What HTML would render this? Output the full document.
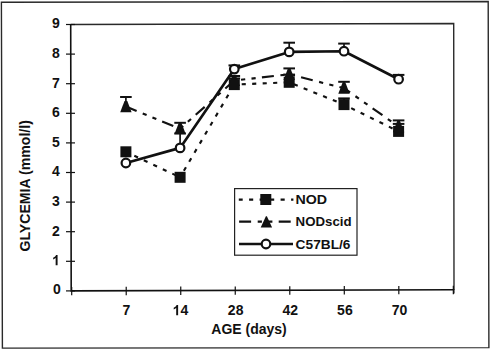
<!DOCTYPE html>
<html><head><meta charset="utf-8"><style>
html,body{margin:0;padding:0;background:#fff;}
body{width:491px;height:350px;overflow:hidden;}
svg{display:block;}
text{font-family:"Liberation Sans",sans-serif;font-weight:bold;fill:#111;}
.tl{font-size:14px;}
.ax{font-size:14px;}
.lg{font-size:13.5px;}
</style></head><body>
<svg width="491" height="350" viewBox="0 0 491 350">
<rect width="491" height="350" fill="#fff"/>
<polygon points="1.4,2.2 488.2,1.5 488.9,347.6 2.4,348.1" fill="none" stroke="#2a2a2a" stroke-width="1.4"/>
<polyline points="70.7,24.5 453.7,23.5 454.0,289.8" fill="none" stroke="#2a2a2a" stroke-width="1.4"/>
<polyline points="70.7,24.5 71.2,290.9 454.0,289.8" fill="none" stroke="#111" stroke-width="1.6"/>
<line x1="453.9" y1="289" x2="453.9" y2="293.6" stroke="#111" stroke-width="1.3"/>
<line x1="66" y1="290.90" x2="75" y2="290.90" stroke="#111" stroke-width="1.2"/>
<text x="60.70" y="294.20" text-anchor="end" class="tl">0</text>
<line x1="66" y1="261.30" x2="75" y2="261.30" stroke="#111" stroke-width="1.2"/>
<path transform="translate(52.12,265.20)" fill="#111" d="M5.455,0 L3.534,0 L3.534,-7.24 Q2.481,-6.255 1.053,-5.783 L1.053,-7.527 Q1.805,-7.772 2.687,-8.456 Q3.568,-9.147 3.897,-10.145 L5.455,-10.145 Z"/>
<line x1="66" y1="231.70" x2="75" y2="231.70" stroke="#111" stroke-width="1.2"/>
<text x="59.90" y="235.60" text-anchor="end" class="tl">2</text>
<line x1="66" y1="202.10" x2="75" y2="202.10" stroke="#111" stroke-width="1.2"/>
<text x="59.90" y="206.00" text-anchor="end" class="tl">3</text>
<line x1="66" y1="172.50" x2="75" y2="172.50" stroke="#111" stroke-width="1.2"/>
<text x="59.90" y="176.40" text-anchor="end" class="tl">4</text>
<line x1="66" y1="142.90" x2="75" y2="142.90" stroke="#111" stroke-width="1.2"/>
<text x="59.90" y="146.80" text-anchor="end" class="tl">5</text>
<line x1="66" y1="113.30" x2="75" y2="113.30" stroke="#111" stroke-width="1.2"/>
<text x="59.90" y="117.20" text-anchor="end" class="tl">6</text>
<line x1="66" y1="83.70" x2="75" y2="83.70" stroke="#111" stroke-width="1.2"/>
<text x="59.90" y="87.60" text-anchor="end" class="tl">7</text>
<line x1="66" y1="54.10" x2="75" y2="54.10" stroke="#111" stroke-width="1.2"/>
<text x="59.90" y="58.00" text-anchor="end" class="tl">8</text>
<line x1="66" y1="24.50" x2="75" y2="24.50" stroke="#111" stroke-width="1.2"/>
<text x="59.90" y="28.40" text-anchor="end" class="tl">9</text>
<line x1="71.70" y1="286.90" x2="71.70" y2="295.30" stroke="#111" stroke-width="1.2"/>
<line x1="126.22" y1="286.74" x2="126.22" y2="295.14" stroke="#111" stroke-width="1.2"/>
<line x1="180.74" y1="286.59" x2="180.74" y2="294.99" stroke="#111" stroke-width="1.2"/>
<line x1="235.26" y1="286.43" x2="235.26" y2="294.83" stroke="#111" stroke-width="1.2"/>
<line x1="289.78" y1="286.27" x2="289.78" y2="294.67" stroke="#111" stroke-width="1.2"/>
<line x1="344.30" y1="286.12" x2="344.30" y2="294.52" stroke="#111" stroke-width="1.2"/>
<line x1="398.82" y1="285.96" x2="398.82" y2="294.36" stroke="#111" stroke-width="1.2"/>
<line x1="453.34" y1="285.80" x2="453.34" y2="294.20" stroke="#111" stroke-width="1.2"/>
<text x="126.42" y="315.30" text-anchor="middle" class="tl">7</text>
<path transform="translate(172.66,315.18)" fill="#111" d="M5.455,0 L3.534,0 L3.534,-7.24 Q2.481,-6.255 1.053,-5.783 L1.053,-7.527 Q1.805,-7.772 2.687,-8.456 Q3.568,-9.147 3.897,-10.145 L5.455,-10.145 Z"/>
<text x="180.44" y="315.18" class="tl">4</text>
<text x="235.66" y="315.06" text-anchor="middle" class="tl">28</text>
<text x="290.28" y="314.94" text-anchor="middle" class="tl">42</text>
<text x="344.90" y="314.82" text-anchor="middle" class="tl">56</text>
<text x="399.52" y="314.70" text-anchor="middle" class="tl">70</text>
<text x="249" y="334" text-anchor="middle" class="ax">AGE (days)</text>
<text transform="translate(30.3,185.8) rotate(-90)" text-anchor="middle" class="ax" style="font-size:14.1px">GLYCEMIA (mmol/l)</text>
<line x1="125.90" y1="151.80" x2="180.10" y2="177.30" stroke="#111" stroke-width="2.15" stroke-dasharray="4.1 6.4" stroke-dashoffset="1.20"/>
<line x1="180.10" y1="177.30" x2="234.30" y2="84.60" stroke="#111" stroke-width="2.15" stroke-dasharray="4.1 6.4" stroke-dashoffset="3.00"/>
<line x1="234.30" y1="84.60" x2="289.20" y2="82.30" stroke="#111" stroke-width="2.15" stroke-dasharray="4.1 6.4" stroke-dashoffset="3.10"/>
<line x1="289.20" y1="82.30" x2="344.00" y2="104.60" stroke="#111" stroke-width="2.15" stroke-dasharray="4.1 6.4" stroke-dashoffset="5.40"/>
<line x1="344.00" y1="104.60" x2="398.60" y2="131.40" stroke="#111" stroke-width="2.15" stroke-dasharray="4.1 6.4" stroke-dashoffset="2.50"/>
<line x1="125.90" y1="106.60" x2="180.10" y2="128.70" stroke="#111" stroke-width="2.15" stroke-dasharray="12 6.6 4.2 6.3 4.2 6.3" stroke-dashoffset="0.44"/>
<line x1="180.10" y1="128.70" x2="234.30" y2="80.50" stroke="#111" stroke-width="2.15" stroke-dasharray="12 6.6 4.2 6.3 4.2 6.3" stroke-dashoffset="18.70"/>
<line x1="234.30" y1="80.50" x2="289.20" y2="74.30" stroke="#111" stroke-width="2.15" stroke-dasharray="12 6.6 4.2 6.3 4.2 6.3" stroke-dashoffset="11.80"/>
<line x1="289.20" y1="74.30" x2="344.00" y2="88.20" stroke="#111" stroke-width="2.15" stroke-dasharray="12 6.6 4.2 6.3 4.2 6.3" stroke-dashoffset="27.35"/>
<line x1="344.00" y1="88.20" x2="398.60" y2="126.60" stroke="#111" stroke-width="2.15" stroke-dasharray="12 6.6 4.2 6.3 4.2 6.3" stroke-dashoffset="4.60"/>
<polyline points="125.90,163.00 180.10,147.90 234.30,69.10 289.20,51.90 344.00,51.20 398.60,79.20" fill="none" stroke="#111" stroke-width="2.65" stroke-linejoin="round"/>
<line x1="234.30" y1="84.60" x2="234.30" y2="78.40" stroke="#111" stroke-width="1.7"/><line x1="228.50" y1="78.40" x2="240.10" y2="78.40" stroke="#111" stroke-width="2"/>
<line x1="289.20" y1="82.30" x2="289.20" y2="74.60" stroke="#111" stroke-width="1.7"/><line x1="283.40" y1="74.60" x2="295.00" y2="74.60" stroke="#111" stroke-width="2"/>
<line x1="344.00" y1="104.60" x2="344.00" y2="98.40" stroke="#111" stroke-width="1.7"/><line x1="338.20" y1="98.40" x2="349.80" y2="98.40" stroke="#111" stroke-width="2"/>
<line x1="398.60" y1="131.40" x2="398.60" y2="123.90" stroke="#111" stroke-width="1.7"/><line x1="392.80" y1="123.90" x2="404.40" y2="123.90" stroke="#111" stroke-width="2"/>
<line x1="125.90" y1="106.60" x2="125.90" y2="97.00" stroke="#111" stroke-width="1.7"/><line x1="120.10" y1="97.00" x2="131.70" y2="97.00" stroke="#111" stroke-width="2"/>
<line x1="180.10" y1="128.70" x2="180.10" y2="122.80" stroke="#111" stroke-width="1.7"/><line x1="174.30" y1="122.80" x2="185.90" y2="122.80" stroke="#111" stroke-width="2"/>
<line x1="234.30" y1="80.50" x2="234.30" y2="76.00" stroke="#111" stroke-width="1.7"/><line x1="228.50" y1="76.00" x2="240.10" y2="76.00" stroke="#111" stroke-width="2"/>
<line x1="289.20" y1="74.30" x2="289.20" y2="68.40" stroke="#111" stroke-width="1.7"/><line x1="283.40" y1="68.40" x2="295.00" y2="68.40" stroke="#111" stroke-width="2"/>
<line x1="344.00" y1="88.20" x2="344.00" y2="81.80" stroke="#111" stroke-width="1.7"/><line x1="338.20" y1="81.80" x2="349.80" y2="81.80" stroke="#111" stroke-width="2"/>
<line x1="398.60" y1="126.60" x2="398.60" y2="120.40" stroke="#111" stroke-width="1.7"/><line x1="392.80" y1="120.40" x2="404.40" y2="120.40" stroke="#111" stroke-width="2"/>
<line x1="180.10" y1="147.90" x2="180.10" y2="133.40" stroke="#111" stroke-width="1.7"/><line x1="174.30" y1="133.40" x2="185.90" y2="133.40" stroke="#111" stroke-width="2"/>
<line x1="234.30" y1="69.10" x2="234.30" y2="65.40" stroke="#111" stroke-width="1.7"/><line x1="228.50" y1="65.40" x2="240.10" y2="65.40" stroke="#111" stroke-width="2"/>
<line x1="289.20" y1="51.90" x2="289.20" y2="42.70" stroke="#111" stroke-width="1.7"/><line x1="283.40" y1="42.70" x2="295.00" y2="42.70" stroke="#111" stroke-width="2"/>
<line x1="344.00" y1="51.20" x2="344.00" y2="43.60" stroke="#111" stroke-width="1.7"/><line x1="338.20" y1="43.60" x2="349.80" y2="43.60" stroke="#111" stroke-width="2"/>
<line x1="398.60" y1="79.20" x2="398.60" y2="74.90" stroke="#111" stroke-width="1.7"/><line x1="392.80" y1="74.90" x2="404.40" y2="74.90" stroke="#111" stroke-width="2"/>
<rect x="120.40" y="146.30" width="11.00" height="11.00" fill="#111"/>
<rect x="174.60" y="171.80" width="11.00" height="11.00" fill="#111"/>
<rect x="228.80" y="79.10" width="11.00" height="11.00" fill="#111"/>
<rect x="283.70" y="76.80" width="11.00" height="11.00" fill="#111"/>
<rect x="338.50" y="99.10" width="11.00" height="11.00" fill="#111"/>
<rect x="393.10" y="125.90" width="11.00" height="11.00" fill="#111"/>
<polygon points="124.50,101.00 127.30,101.00 131.60,112.20 120.20,112.20" fill="#111"/>
<polygon points="178.70,123.10 181.50,123.10 185.80,134.30 174.40,134.30" fill="#111"/>
<polygon points="232.90,74.90 235.70,74.90 240.00,86.10 228.60,86.10" fill="#111"/>
<polygon points="287.80,68.70 290.60,68.70 294.90,79.90 283.50,79.90" fill="#111"/>
<polygon points="342.60,82.60 345.40,82.60 349.70,93.80 338.30,93.80" fill="#111"/>
<polygon points="397.20,121.00 400.00,121.00 404.30,132.20 392.90,132.20" fill="#111"/>
<circle cx="125.90" cy="163.00" r="4.30" fill="#fff" stroke="#111" stroke-width="2.20"/>
<circle cx="180.10" cy="147.90" r="4.30" fill="#fff" stroke="#111" stroke-width="2.20"/>
<circle cx="234.30" cy="69.10" r="4.30" fill="#fff" stroke="#111" stroke-width="2.20"/>
<circle cx="289.20" cy="51.90" r="4.30" fill="#fff" stroke="#111" stroke-width="2.20"/>
<circle cx="344.00" cy="51.20" r="4.30" fill="#fff" stroke="#111" stroke-width="2.20"/>
<circle cx="398.60" cy="79.20" r="4.30" fill="#fff" stroke="#111" stroke-width="2.20"/>
<rect x="234.6" y="188.6" width="122.4" height="66.6" fill="#fff" stroke="#222" stroke-width="1.2"/>
<line x1="238.80" y1="199.60" x2="293.40" y2="199.60" stroke="#111" stroke-width="2.15" stroke-dasharray="4.1 6.4" stroke-dashoffset="0.20"/>
<rect x="260.30" y="194.00" width="11.00" height="11.00" fill="#111"/>
<line x1="238.80" y1="221.60" x2="292.00" y2="221.60" stroke="#111" stroke-width="2.15" stroke-dasharray="12 6.6 4.2 6.3 4.2 6.3" stroke-dashoffset="39.30"/>
<polygon points="265.90,216.30 266.90,216.30 272.10,227.50 260.70,227.50" fill="#111"/>
<line x1="239.00" y1="244.00" x2="293.00" y2="244.00" stroke="#111" stroke-width="2.45"/>
<circle cx="266.00" cy="244.00" r="4.30" fill="#fff" stroke="#111" stroke-width="2.20"/>
<text x="295.4" y="204.3" class="lg" textLength="31.6" lengthAdjust="spacingAndGlyphs">NOD</text>
<text x="295.6" y="225.8" class="lg" textLength="56.0" lengthAdjust="spacingAndGlyphs">NODscid</text>
<text x="295.6" y="248.7" class="lg" textLength="54.9" lengthAdjust="spacingAndGlyphs">C57BL/6</text>
</svg>
</body></html>
